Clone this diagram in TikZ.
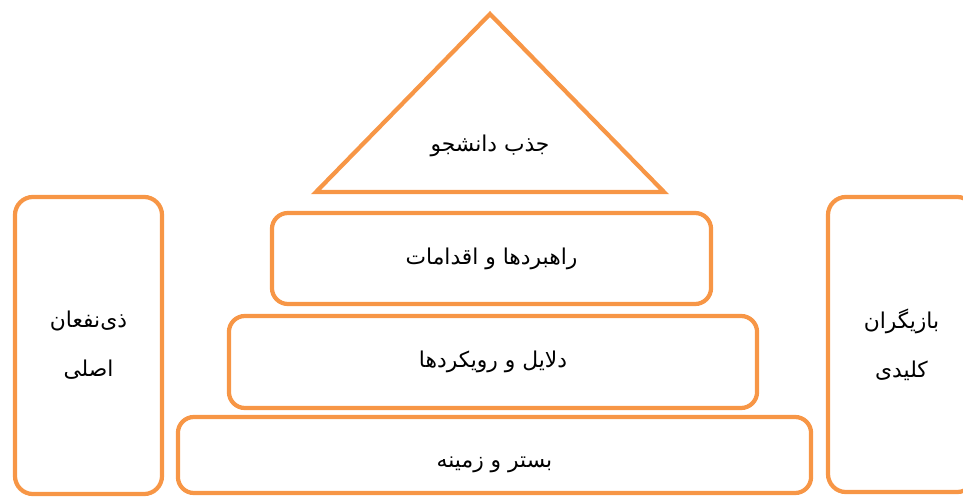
\documentclass[tikz,border=0pt]{standalone}
\usepackage{fontspec}
\newfontfamily\arabicfont[Script=Arabic]{DejaVu Sans}
\TeXXeTstate=1
\usepackage{tikz}
\usetikzlibrary{positioning, calc}

\definecolor{pyrorange}{HTML}{F79646}

\tikzset{
    labeltext/.style={font=\arabicfont\fontsize{15.5}{19}\selectfont},
    layer/.style={draw=pyrorange, line width=3pt, rounded corners=0.4cm,
        inner sep=0pt, labeltext},
    side/.style={layer, rounded corners=0.45cm, align=center}
}

\begin{document}
\begin{tikzpicture}[x=0.025cm, y=0.025cm]
\useasboundingbox (0,0) rectangle (963,496);

% triangle on top
\coordinate (apex) at (490,482);
\coordinate (baseL) at (316,304);
\coordinate (baseR) at (664,304);
\draw[draw=pyrorange, line width=3pt, line join=miter]
    (apex) -- (baseR) -- (baseL) -- cycle;
\node[labeltext] (goal) at (490,350)
    {\beginR جذب دانشجو\endR};

% the three layers
\node[layer,
        minimum width=10.975cm,
        minimum height=2.275cm] (strat) at (491.5,237.5)
    {\beginR راهبردها و اقدامات\endR};
\node[layer,
        minimum width=13.2cm,
        minimum height=2.3cm] (reason) at (493,134)
    {\beginR دلایل و رویکردها\endR};
\node[layer,
        minimum width=15.825cm,
        minimum height=1.9cm,
        text height=0.7cm, text depth=0.1cm] (ground) at (494.5,41)
    {\beginR بستر و زمینه\endR};

% side boxes
\node[side,
        minimum width=3.675cm,
        minimum height=7.425cm] (stake) at (88.5,150.5)
    {\beginR ذی‌نفعان\endR\\[0.55cm]\beginR اصلی\endR};
\node[side,
        minimum width=3.675cm,
        minimum height=7.375cm] (actor) at (901.5,151.5)
    {\beginR بازیگران\endR\\[0.55cm]\beginR کلیدی\endR};

\end{tikzpicture}
\end{document}
